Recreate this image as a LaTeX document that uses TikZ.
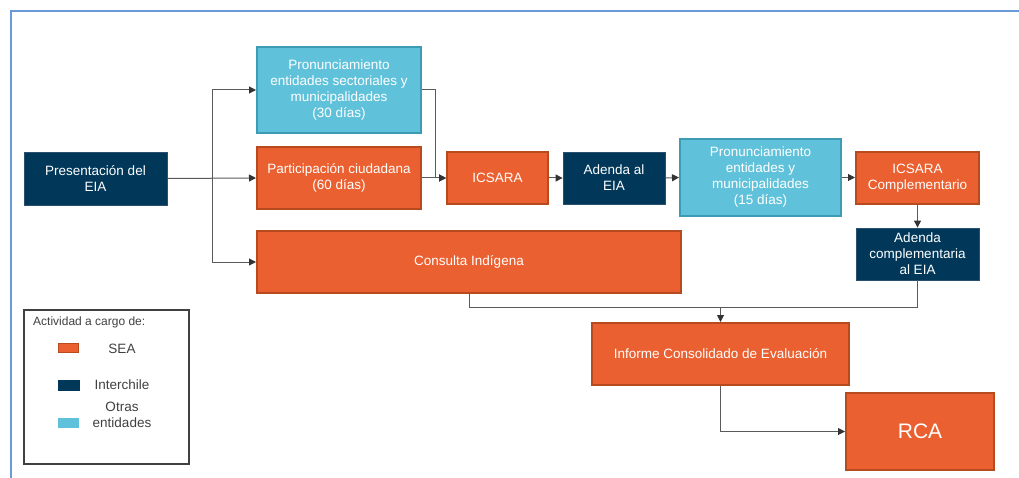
\documentclass[tikz,border=0pt]{standalone}
\usepackage{fontspec}
\setmainfont{Liberation Sans}
\usetikzlibrary{arrows.meta}
\definecolor{sea}{HTML}{EB6030}
\definecolor{seab}{HTML}{B84A20}
\definecolor{navy}{HTML}{01385A}
\definecolor{navyb}{HTML}{2B4F6E}
\definecolor{lblue}{HTML}{60C2DA}
\definecolor{lblueb}{HTML}{3D9BB3}
\definecolor{frame}{HTML}{6A9BD8}
\definecolor{conn}{HTML}{5A5A5A}
\definecolor{legtxt}{HTML}{404040}
\tikzset{
  box/.style={draw, align=center, text=white, inner sep=2pt,
    font=\fontsize{13.5}{16}\selectfont},
  seabox/.style={box, fill=sea, draw=seab, line width=2pt},
  navybox/.style={box, fill=navy, draw=navyb, line width=0.8pt},
  bluebox/.style={box, fill=lblue, draw=lblueb, line width=2pt},
  conline/.style={draw=conn, line width=1pt},
  arr/.style={conline, -{Triangle[length=7pt,width=7pt,color=black!80]}},
  legtext/.style={text=legtxt, align=center, font=\fontsize{13.5}{16}\selectfont},
}
\begin{document}
\begin{tikzpicture}[x=1pt,y=-1pt]
\useasboundingbox (0,0) rectangle (1019,478);
% frame
\draw[frame, line width=2pt] (10.5,478) -- (10.5,11) -- (1019,11);
% boxes
\node[navybox, minimum width=143, minimum height=53] (pres) at (95.5,178.5) {Presentación del\\EIA};
\node[bluebox, minimum width=164, minimum height=86] (pron30) at (339,90) {Pronunciamiento\\entidades sectoriales y\\municipalidades\\(30 días)};
\node[seabox, minimum width=164, minimum height=62] (part) at (339,178) {Participación ciudadana\\(60 días)};
\node[seabox, minimum width=101, minimum height=52] (icsara) at (497.5,178) {ICSARA};
\node[navybox, minimum width=102, minimum height=52] (adenda) at (614,178) {Adenda al\\EIA};
\node[bluebox, minimum width=161, minimum height=77] (pron15) at (760.5,177.5) {Pronunciamiento\\entidades y\\municipalidades\\(15 días)};
\node[seabox, minimum width=123, minimum height=52] (icsarac) at (917.5,178) {ICSARA\\Complementario};
\node[navybox, minimum width=123, minimum height=52] (adendac) at (917.5,254) {Adenda\\complementaria\\al EIA};
\node[seabox, minimum width=424, minimum height=62] (consulta) at (469,262) {Consulta Indígena};
\node[seabox, minimum width=257, minimum height=62] (informe) at (720.5,354) {Informe Consolidado de Evaluación};
\node[seabox, minimum width=148, minimum height=77, font=\fontsize{21}{24}\selectfont] (rca) at (920,431.5) {RCA};
% connectors
\coordinate (br) at (212,178.5);
\coordinate (mj) at (720.5,307);
\draw[arr] (pres.east) -- (part.west);
\draw[arr] (br) |- (pron30.west);
\draw[arr] (br) |- (consulta.west);
\draw[arr] (pron30.east) -- ++(13,0) |- (icsara.west);
\draw[arr] (part.east) -- (icsara.west);
\draw[arr] (icsara.east) -- (adenda.west);
\draw[arr] (adenda.east) -- (pron15.west);
\draw[arr] (pron15.east) -- (pron15.east -| icsarac.west);
\draw[arr] (icsarac.south) -- (adendac.north);
\draw[conline] (adendac.south) |- (mj);
\draw[conline] (consulta.south) |- (mj);
\draw[arr] (mj) -- (informe.north);
\draw[arr] (informe.south) |- (rca.west);
% legend
\node[draw=legtxt, line width=2pt, minimum width=165, minimum height=154] (legend) at (106.5,387) {};
\node[anchor=west, text=legtxt, inner sep=0pt, font=\fontsize{12}{14}\selectfont] (legtitle) at (33,322) {Actividad a cargo de:};
\node[fill=sea, draw=seab, line width=1.5pt, minimum width=20, minimum height=9, inner sep=0pt] (swsea) at (68.5,348) {};
\node[fill=navy, draw=navy, line width=0.5pt, minimum width=21, minimum height=10, inner sep=0pt] (swnavy) at (68.5,385) {};
\node[fill=lblue, draw=lblue, line width=0.5pt, minimum width=20, minimum height=9, inner sep=0pt] (swblue) at (68,422.5) {};
\node[legtext] (lsea) at (122,349) {SEA};
\node[legtext] (lnavy) at (122,385) {Interchile};
\node[legtext] (lblue) at (122,415) {Otras\\entidades};
\end{tikzpicture}
\end{document}
